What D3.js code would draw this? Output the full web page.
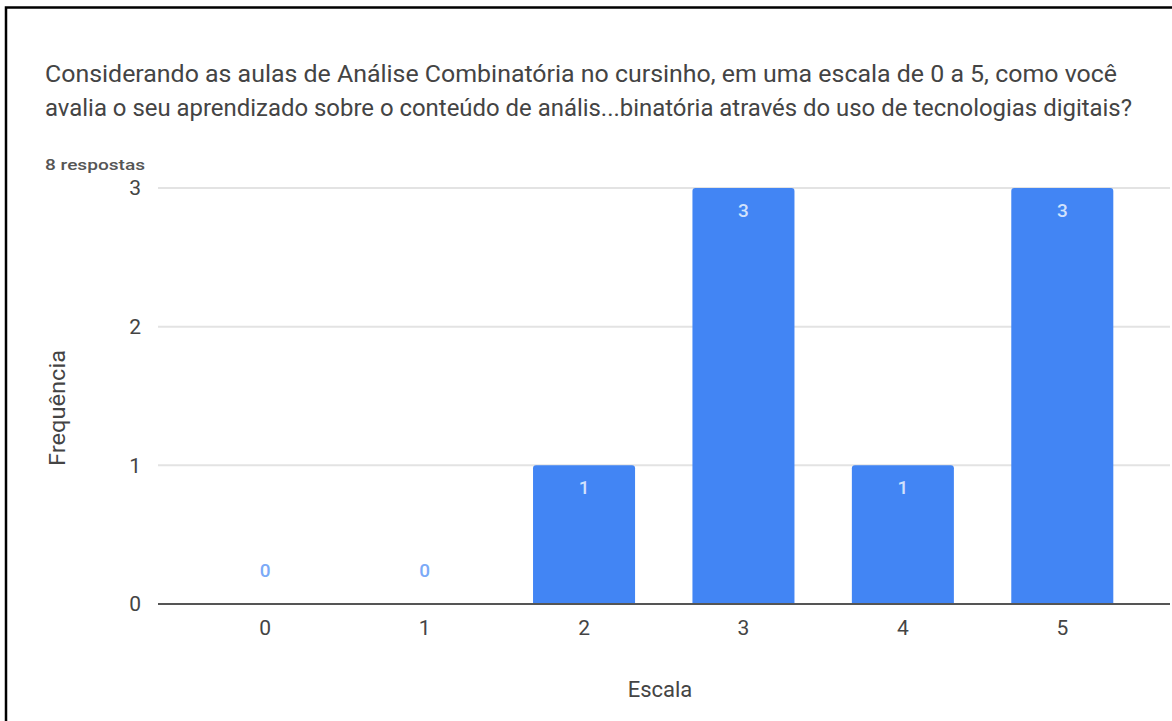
<!DOCTYPE html>
<html>
<head>
<meta charset="utf-8">
<script src="https://cdn.jsdelivr.net/npm/d3@7"></script>
<style>
  html, body { margin: 0; padding: 0; background: #fff; }
  svg { display: block; font-family: Roboto, Arial, sans-serif; }
</style>
</head>
<body>
<div id="chart"></div>
<script>
// Chart data
const categories = ['0', '1', '2', '3', '4', '5'];
const counts = [0, 0, 1, 3, 1, 3];
const yTicks = [0, 1, 2, 3];

const titleLines = [
  'Considerando as aulas de Análise Combinatória no cursinho, em uma escala de 0 a 5, como você',
  'avalia o seu aprendizado sobre o conteúdo de anális...binatória através do uso de tecnologias digitais?'
];
const subtitle = '8 respostas';
const xAxisLabel = 'Escala';
const yAxisLabel = 'Frequência';

const width = 1172;
const height = 721;
const barColor = '#4285f4';
const textColor = '#444';

const svg = d3.select('#chart')
  .append('svg')
  .attr('width', width)
  .attr('height', height);

// Outer frame (only top and left edges are visible in the screenshot)
svg.append('path')
  .attr('d', `M6,${height} V7.5 H${width}`)
  .attr('fill', 'none')
  .attr('stroke', '#000')
  .attr('stroke-width', 2.5);

// Title (stretched to the widths measured on the screenshot)
svg.selectAll('.title-line')
  .data(titleLines)
  .join('text')
  .attr('class', 'title-line')
  .attr('x', 45)
  .attr('y', (d, i) => 82 + i * 34)
  .attr('textLength', (d, i) => i === 0 ? 1072 : 1087)
  .attr('lengthAdjust', 'spacingAndGlyphs')
  .style('font-size', '23px')
  .style('fill', textColor)
  .text(d => d);

svg.append('text')
  .attr('x', 45)
  .attr('y', 170)
  .attr('textLength', 100)
  .attr('lengthAdjust', 'spacingAndGlyphs')
  .style('font-size', '15px')
  .style('font-weight', '500')
  .style('fill', '#555')
  .text(subtitle);

// Plot area
const plotLeft = 158;
const plotRight = 1170;
const x = d3.scaleBand()
  .domain(categories)
  .range([185.5, 1142])
  .paddingInner(0.36)
  .paddingOuter(0.18);

const y = d3.scaleLinear()
  .domain([0, 3])
  .range([604, 188]);

// Grid lines
svg.append('g')
  .selectAll('line')
  .data(yTicks.filter(d => d !== 0))
  .join('line')
  .attr('x1', plotLeft)
  .attr('x2', plotRight)
  .attr('y1', d => y(d))
  .attr('y2', d => y(d))
  .attr('stroke', '#e3e3e3')
  .attr('stroke-width', 2);

// Y tick labels
const yAxis = svg.append('g')
  .attr('transform', `translate(${plotLeft},0)`)
  .call(d3.axisLeft(y).tickValues(yTicks).tickFormat(d3.format('d')).tickSize(0).tickPadding(17));
yAxis.select('.domain').remove();
yAxis.selectAll('text')
  .style('font-size', '21px')
  .style('font-family', 'Roboto, Arial, sans-serif')
  .style('fill', textColor);

// Bars with slightly rounded tops
const r = 3;
svg.append('g')
  .selectAll('path')
  .data(counts.map((v, i) => ({ cat: categories[i], v })).filter(d => d.v > 0))
  .join('path')
  .attr('fill', barColor)
  .attr('d', d => {
    const x0 = x(d.cat), x1 = x0 + x.bandwidth();
    const y0 = y(d.v), y1 = y(0);
    return `M${x0},${y1} V${y0 + r} Q${x0},${y0} ${x0 + r},${y0} H${x1 - r} Q${x1},${y0} ${x1},${y0 + r} V${y1} Z`;
  });

// X axis baseline
svg.append('line')
  .attr('x1', plotLeft)
  .attr('x2', plotRight)
  .attr('y1', y(0))
  .attr('y2', y(0))
  .attr('stroke', '#555')
  .attr('stroke-width', 2);

// X tick labels
const xAxis = svg.append('g')
  .attr('transform', `translate(0,${y(0)})`)
  .call(d3.axisBottom(x).tickSize(0).tickPadding(16));
xAxis.select('.domain').remove();
xAxis.selectAll('text')
  .style('font-size', '21px')
  .style('font-family', 'Roboto, Arial, sans-serif')
  .style('fill', textColor);

// Value labels
svg.append('g')
  .selectAll('text')
  .data(counts.map((v, i) => ({ cat: categories[i], v })))
  .join('text')
  .attr('x', d => x(d.cat) + x.bandwidth() / 2)
  .attr('y', d => d.v > 0 ? y(d.v) + 29 : y(0) - 27)
  .attr('text-anchor', 'middle')
  .style('font-size', '19px')
  .style('font-weight', '500')
  .style('fill', d => d.v > 0 ? '#d2e2fc' : '#7baaf7')
  .text(d => d.v);

// Axis titles
svg.append('text')
  .attr('x', 660)
  .attr('y', 697)
  .attr('text-anchor', 'middle')
  .style('font-size', '22px')
  .style('fill', textColor)
  .text(xAxisLabel);

svg.append('text')
  .attr('transform', 'rotate(-90)')
  .attr('x', -408)
  .attr('y', 65)
  .attr('text-anchor', 'middle')
  .attr('textLength', 116)
  .attr('lengthAdjust', 'spacingAndGlyphs')
  .style('font-size', '22px')
  .style('fill', textColor)
  .text(yAxisLabel);
</script>
</body>
</html>
